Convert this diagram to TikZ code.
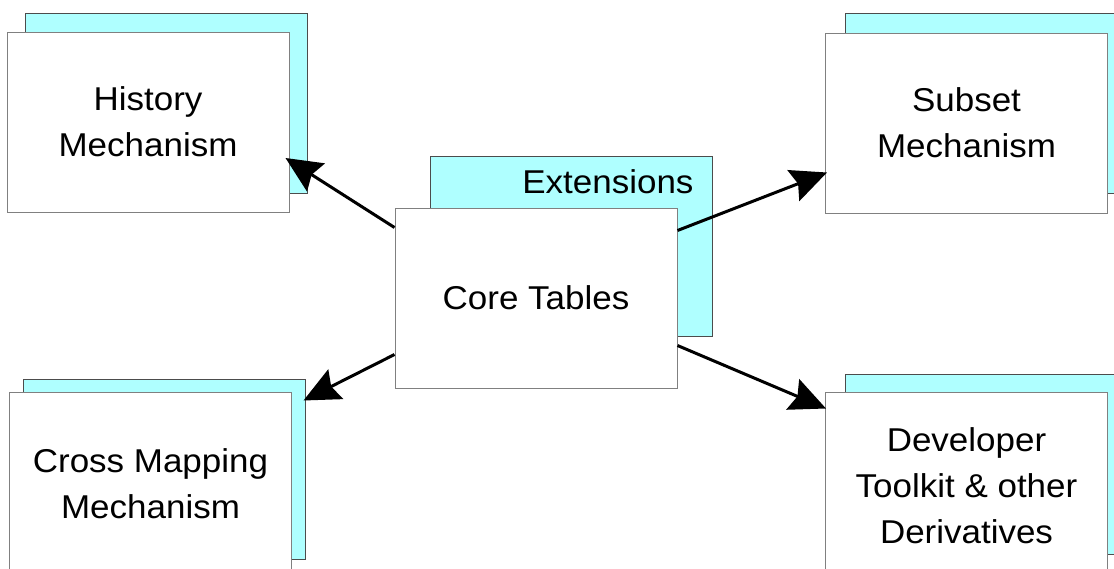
\documentclass[tikz,border=0pt]{standalone}
\usepackage{fontspec}
\setmainfont{Liberation Sans}[FakeStretch=1.06]
\usetikzlibrary{arrows.meta}
\definecolor{shade}{RGB}{175,255,255}
\definecolor{edge}{RGB}{128,128,128}

\begin{document}
\begin{tikzpicture}[x=1pt,y=-1pt,
  label font/.style={font=\fontsize{33}{46}\selectfont},
  card/.style={draw=edge, line width=1pt, fill=white, minimum width=282pt,
    minimum height=180pt, inner sep=0pt, align=center, label font},
  backcard/.style={draw=black!70, line width=1pt, fill=shade,
    minimum width=282pt, minimum height=180pt, inner sep=0pt},
  link/.style={line width=3pt, -{Stealth[length=36pt,width=33pt,inset=5pt]}}]

\useasboundingbox (0,0) rectangle (1114,568);
\clip (0,0) rectangle (1114,568);

% cyan layers behind each card
\node[backcard] (histback)  at (166.5,103) {};
\node[backcard] (coreback)  at (571.5,246) {};
\node[backcard] (subback)   at (986,103) {};
\node[backcard] (crossback) at (164,469) {};
\node[backcard] (devback)   at (986,464) {};

\node[anchor=base east, label font] (ext) at (697,193) {Extensions};

% white cards
\node[card] (hist)  at (148,122)   {History\\Mechanism};
\node[card] (core)  at (536,298)   {Core Tables};
\node[card] (sub)   at (966.5,123) {Subset\\Mechanism};
\node[card, minimum height=183pt] (cross) at (150.5,483.5) {Cross Mapping\\Mechanism};
\node[card, minimum height=188pt] (dev)   at (966.5,486)   {Developer\\Toolkit \& other\\Derivatives};

% connectors from the core tables
\draw[link] ([yshift=-20pt]core.north west) -- ([xshift=-4pt,yshift=-36pt]hist.east);
\draw[link] ([yshift=-23pt]core.north east) -- ([xshift=2pt,yshift=41pt]sub.south west);
\draw[link] ([yshift=34pt]core.south west) -- ([xshift=-2pt,yshift=-22pt]crossback.north east);
\draw[link] ([yshift=43pt]core.south east) -- ([xshift=1pt,yshift=-17pt]dev.north west);
\end{tikzpicture}
\end{document}
